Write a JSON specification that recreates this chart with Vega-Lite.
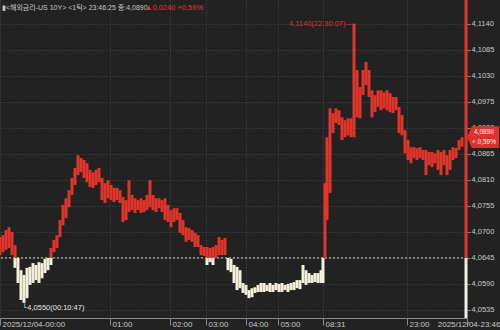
{
  "$schema": "https://vega.github.io/schema/vega-lite/v6.json",
  "width": 467,
  "height": 318,
  "autosize": {"type": "none"},
  "padding": {"left": 0, "top": 0, "right": 33, "bottom": 12},
  "background": "#222222",
  "config": {
    "view": {"stroke": null},
    "font": "Liberation Sans, Noto Sans CJK KR, DejaVu Sans",
    "axis": {"labelOverlap": false, "labelFlush": false}
  },
  "data": {"values": [{}]},
  "datasets": {
    "ticks": [
      {"i": 0, "hi": 4.0689, "lo": 4.0651},
      {"i": 3, "hi": 4.0693, "lo": 4.0657},
      {"i": 6, "hi": 4.0704, "lo": 4.0662},
      {"i": 9, "hi": 4.0710, "lo": 4.0666},
      {"i": 12, "hi": 4.0700, "lo": 4.0651},
      {"i": 15, "hi": 4.0672, "lo": 4.0645},
      {"i": 15, "hi": 4.0645, "lo": 4.0624},
      {"i": 18, "hi": 4.0645, "lo": 4.0592},
      {"i": 21, "hi": 4.0619, "lo": 4.0556},
      {"i": 24, "hi": 4.0609, "lo": 4.0550},
      {"i": 27, "hi": 4.0624, "lo": 4.0560},
      {"i": 30, "hi": 4.0626, "lo": 4.0588},
      {"i": 33, "hi": 4.0634, "lo": 4.0592},
      {"i": 36, "hi": 4.0630, "lo": 4.0598},
      {"i": 39, "hi": 4.0636, "lo": 4.0592},
      {"i": 42, "hi": 4.0634, "lo": 4.0602},
      {"i": 45, "hi": 4.0643, "lo": 4.0613},
      {"i": 48, "hi": 4.0645, "lo": 4.0619},
      {"i": 51, "hi": 4.0666, "lo": 4.0645},
      {"i": 51, "hi": 4.0645, "lo": 4.0630},
      {"i": 54, "hi": 4.0683, "lo": 4.0657},
      {"i": 57, "hi": 4.0693, "lo": 4.0666},
      {"i": 60, "hi": 4.0725, "lo": 4.0689},
      {"i": 63, "hi": 4.0757, "lo": 4.0714},
      {"i": 66, "hi": 4.0771, "lo": 4.0729},
      {"i": 69, "hi": 4.0788, "lo": 4.0752},
      {"i": 72, "hi": 4.0814, "lo": 4.0778},
      {"i": 75, "hi": 4.0835, "lo": 4.0799},
      {"i": 78, "hi": 4.0862, "lo": 4.0820},
      {"i": 81, "hi": 4.0856, "lo": 4.0826},
      {"i": 84, "hi": 4.0852, "lo": 4.0814},
      {"i": 87, "hi": 4.0845, "lo": 4.0805},
      {"i": 90, "hi": 4.0831, "lo": 4.0795},
      {"i": 93, "hi": 4.0826, "lo": 4.0793},
      {"i": 96, "hi": 4.0831, "lo": 4.0799},
      {"i": 99, "hi": 4.0835, "lo": 4.0805},
      {"i": 102, "hi": 4.0814, "lo": 4.0767},
      {"i": 105, "hi": 4.0803, "lo": 4.0761},
      {"i": 108, "hi": 4.0809, "lo": 4.0771},
      {"i": 111, "hi": 4.0799, "lo": 4.0767},
      {"i": 114, "hi": 4.0793, "lo": 4.0763},
      {"i": 117, "hi": 4.0793, "lo": 4.0767},
      {"i": 120, "hi": 4.0788, "lo": 4.0761},
      {"i": 123, "hi": 4.0774, "lo": 4.0721},
      {"i": 126, "hi": 4.0767, "lo": 4.0725},
      {"i": 129, "hi": 4.0809, "lo": 4.0742},
      {"i": 132, "hi": 4.0778, "lo": 4.0746},
      {"i": 135, "hi": 4.0771, "lo": 4.0740},
      {"i": 138, "hi": 4.0767, "lo": 4.0746},
      {"i": 141, "hi": 4.0771, "lo": 4.0740},
      {"i": 144, "hi": 4.0767, "lo": 4.0742},
      {"i": 147, "hi": 4.0778, "lo": 4.0746},
      {"i": 150, "hi": 4.0809, "lo": 4.0752},
      {"i": 153, "hi": 4.0778, "lo": 4.0746},
      {"i": 156, "hi": 4.0771, "lo": 4.0742},
      {"i": 159, "hi": 4.0771, "lo": 4.0750},
      {"i": 162, "hi": 4.0767, "lo": 4.0742},
      {"i": 165, "hi": 4.0771, "lo": 4.0725},
      {"i": 168, "hi": 4.0757, "lo": 4.0721},
      {"i": 171, "hi": 4.0746, "lo": 4.0710},
      {"i": 174, "hi": 4.0750, "lo": 4.0721},
      {"i": 177, "hi": 4.0750, "lo": 4.0725},
      {"i": 180, "hi": 4.0740, "lo": 4.0698},
      {"i": 183, "hi": 4.0725, "lo": 4.0693},
      {"i": 186, "hi": 4.0710, "lo": 4.0679},
      {"i": 189, "hi": 4.0708, "lo": 4.0683},
      {"i": 192, "hi": 4.0704, "lo": 4.0679},
      {"i": 195, "hi": 4.0698, "lo": 4.0668},
      {"i": 198, "hi": 4.0693, "lo": 4.0668},
      {"i": 201, "hi": 4.0672, "lo": 4.0651},
      {"i": 204, "hi": 4.0668, "lo": 4.0649},
      {"i": 207, "hi": 4.0668, "lo": 4.0645},
      {"i": 207, "hi": 4.0645, "lo": 4.0630},
      {"i": 210, "hi": 4.0666, "lo": 4.0645},
      {"i": 210, "hi": 4.0645, "lo": 4.0636},
      {"i": 213, "hi": 4.0668, "lo": 4.0645},
      {"i": 213, "hi": 4.0645, "lo": 4.0630},
      {"i": 216, "hi": 4.0672, "lo": 4.0645},
      {"i": 219, "hi": 4.0689, "lo": 4.0651},
      {"i": 222, "hi": 4.0683, "lo": 4.0651},
      {"i": 225, "hi": 4.0687, "lo": 4.0651},
      {"i": 228, "hi": 4.0645, "lo": 4.0619},
      {"i": 231, "hi": 4.0643, "lo": 4.0615},
      {"i": 234, "hi": 4.0630, "lo": 4.0592},
      {"i": 237, "hi": 4.0626, "lo": 4.0577},
      {"i": 240, "hi": 4.0619, "lo": 4.0581},
      {"i": 243, "hi": 4.0592, "lo": 4.0571},
      {"i": 246, "hi": 4.0588, "lo": 4.0567},
      {"i": 249, "hi": 4.0577, "lo": 4.0560},
      {"i": 252, "hi": 4.0581, "lo": 4.0562},
      {"i": 255, "hi": 4.0583, "lo": 4.0571},
      {"i": 258, "hi": 4.0588, "lo": 4.0573},
      {"i": 261, "hi": 4.0592, "lo": 4.0573},
      {"i": 264, "hi": 4.0592, "lo": 4.0573},
      {"i": 267, "hi": 4.0588, "lo": 4.0575},
      {"i": 270, "hi": 4.0592, "lo": 4.0573},
      {"i": 273, "hi": 4.0588, "lo": 4.0573},
      {"i": 276, "hi": 4.0592, "lo": 4.0577},
      {"i": 279, "hi": 4.0590, "lo": 4.0573},
      {"i": 282, "hi": 4.0592, "lo": 4.0573},
      {"i": 285, "hi": 4.0588, "lo": 4.0577},
      {"i": 288, "hi": 4.0590, "lo": 4.0573},
      {"i": 291, "hi": 4.0592, "lo": 4.0577},
      {"i": 294, "hi": 4.0594, "lo": 4.0577},
      {"i": 297, "hi": 4.0598, "lo": 4.0581},
      {"i": 300, "hi": 4.0598, "lo": 4.0579},
      {"i": 303, "hi": 4.0630, "lo": 4.0592},
      {"i": 306, "hi": 4.0619, "lo": 4.0588},
      {"i": 309, "hi": 4.0613, "lo": 4.0592},
      {"i": 312, "hi": 4.0609, "lo": 4.0592},
      {"i": 315, "hi": 4.0613, "lo": 4.0594},
      {"i": 318, "hi": 4.0613, "lo": 4.0592},
      {"i": 321, "hi": 4.0619, "lo": 4.0592},
      {"i": 323, "hi": 4.0645, "lo": 4.0592},
      {"i": 325, "hi": 4.0803, "lo": 4.0645},
      {"i": 327, "hi": 4.0900, "lo": 4.0725},
      {"i": 330, "hi": 4.0961, "lo": 4.0782},
      {"i": 333, "hi": 4.0951, "lo": 4.0909},
      {"i": 336, "hi": 4.0961, "lo": 4.0930},
      {"i": 339, "hi": 4.0957, "lo": 4.0926},
      {"i": 342, "hi": 4.0942, "lo": 4.0894},
      {"i": 345, "hi": 4.0936, "lo": 4.0900},
      {"i": 348, "hi": 4.0940, "lo": 4.0904},
      {"i": 351, "hi": 4.0940, "lo": 4.0900},
      {"i": 354, "hi": 4.1140, "lo": 4.0900},
      {"i": 357, "hi": 4.1042, "lo": 4.0942},
      {"i": 360, "hi": 4.1006, "lo": 4.0940},
      {"i": 363, "hi": 4.1042, "lo": 4.0989},
      {"i": 366, "hi": 4.1059, "lo": 4.1010},
      {"i": 369, "hi": 4.1042, "lo": 4.0985},
      {"i": 372, "hi": 4.0999, "lo": 4.0942},
      {"i": 375, "hi": 4.0989, "lo": 4.0953},
      {"i": 378, "hi": 4.0999, "lo": 4.0964},
      {"i": 381, "hi": 4.0999, "lo": 4.0957},
      {"i": 384, "hi": 4.0995, "lo": 4.0961},
      {"i": 387, "hi": 4.0999, "lo": 4.0957},
      {"i": 390, "hi": 4.0993, "lo": 4.0953},
      {"i": 393, "hi": 4.0985, "lo": 4.0951},
      {"i": 396, "hi": 4.0985, "lo": 4.0957},
      {"i": 399, "hi": 4.0964, "lo": 4.0909},
      {"i": 402, "hi": 4.0947, "lo": 4.0904},
      {"i": 405, "hi": 4.0915, "lo": 4.0866},
      {"i": 408, "hi": 4.0894, "lo": 4.0852},
      {"i": 411, "hi": 4.0879, "lo": 4.0845},
      {"i": 414, "hi": 4.0879, "lo": 4.0856},
      {"i": 417, "hi": 4.0877, "lo": 4.0852},
      {"i": 420, "hi": 4.0879, "lo": 4.0856},
      {"i": 423, "hi": 4.0873, "lo": 4.0852},
      {"i": 426, "hi": 4.0873, "lo": 4.0820},
      {"i": 429, "hi": 4.0869, "lo": 4.0841},
      {"i": 432, "hi": 4.0869, "lo": 4.0837},
      {"i": 435, "hi": 4.0866, "lo": 4.0845},
      {"i": 438, "hi": 4.0873, "lo": 4.0831},
      {"i": 441, "hi": 4.0869, "lo": 4.0820},
      {"i": 444, "hi": 4.0873, "lo": 4.0841},
      {"i": 447, "hi": 4.0862, "lo": 4.0820},
      {"i": 450, "hi": 4.0873, "lo": 4.0831},
      {"i": 453, "hi": 4.0879, "lo": 4.0852},
      {"i": 456, "hi": 4.0877, "lo": 4.0856},
      {"i": 459, "hi": 4.0894, "lo": 4.0873},
      {"i": 462, "hi": 4.0900, "lo": 4.0880},
      {"i": 466, "hi": 4.119, "lo": 4.0645},
      {"i": 466, "hi": 4.0645, "lo": 4.0518}
    ]
  },
  "layer": [
    {
      "mark": {"type": "rule", "color": "#d8d8d8", "strokeDash": [2, 2], "strokeWidth": 1},
      "encoding": {
        "y": {"datum": 4.0645, "type": "quantitative"}
      }
    },
    {
      "data": {"name": "ticks"},
      "mark": {"type": "rule", "strokeWidth": 3, "strokeCap": "butt"},
      "encoding": {
        "x": {
          "field": "i",
          "type": "quantitative",
          "scale": {"domain": [0, 467], "nice": false, "zero": false},
          "axis": {
            "title": null,
            "values": [0, 110, 170, 206, 246, 278, 323, 407, 467],
            "tickCount": 20,
            "labelExpr": "datum.value == 0 ? '2025/12/04-00:00' : datum.value == 110 ? '01:00' : datum.value == 170 ? '02:00' : datum.value == 206 ? '03:00' : datum.value == 246 ? '04:00' : datum.value == 278 ? '05:00' : datum.value == 323 ? '08:31' : datum.value == 407 ? '23:00' : '2025/12/04-23:46'",
            "domainColor": "#8a8a8a",
            "tickColor": "#8a8a8a",
            "tickSize": 7,
            "labelColor": "#c8c8c8",
            "labelFontSize": 8,
            "labelFont": "Liberation Sans",
            "labelBaseline": "top",
            "labelPadding": -5,
            "labelAlign": {"condition": {"test": "datum.value >= 460", "value": "right"}, "value": "left"},
            "labelOffset": {"condition": {"test": "datum.value >= 460", "value": 33}, "value": 2},
            "labelFlush": false,
            "labelOverlap": false,
            "labelBound": false,
            "grid": true,
            "gridColor": "#4a4a4a",
            "gridDash": [1, 2]
          }
        },
        "y": {
          "field": "hi",
          "type": "quantitative",
          "scale": {"domain": [4.0518, 4.119], "nice": false, "zero": false},
          "axis": {
            "title": null,
            "orient": "right",
            "values": [4.0535, 4.059, 4.0645, 4.07, 4.0755, 4.081, 4.0865, 4.092, 4.0975, 4.103, 4.1085, 4.114],
            "tickCount": 24,
            "labelExpr": "replace(format(datum.value, '.4f'), '.', ',')",
            "domain": false,
            "tickSize": 3,
            "tickColor": "#8a8a8a",
            "labelPadding": 1,
            "labelColor": "#c8c8c8",
            "labelFontSize": 7.5,
            "labelFont": "Liberation Sans",
            "labelBaseline": "middle",
            "labelFlush": false,
            "labelOverlap": false,
            "grid": true,
            "gridColor": "#4a4a4a",
            "gridDash": [1, 2]
          }
        },
        "y2": {"field": "lo"},
        "stroke": {
          "condition": {"test": "datum.hi <= 4.0645", "value": "#f2efd8"},
          "value": "#e2352a"
        }
      }
    },
    {
      "mark": {"type": "point", "shape": "M0,0L0.3,-0.68L2,-0.68L2,0.68L0.3,0.68Z", "filled": true, "color": "#e0302a", "opacity": 1, "size": 1024, "strokeWidth": 0},
      "encoding": {
        "x": {"datum": 467, "type": "quantitative"},
        "y": {"datum": 4.0900, "type": "quantitative"}
      }
    },
    {
      "mark": {"type": "text", "color": "#ffffff", "fontSize": 6.5, "align": "center", "baseline": "middle", "dx": 17, "dy": -5.5, "font": "Liberation Sans"},
      "encoding": {
        "x": {"datum": 467, "type": "quantitative"},
        "y": {"datum": 4.0900, "type": "quantitative"},
        "text": {"value": "4,0890"}
      }
    },
    {
      "mark": {"type": "text", "color": "#ffffff", "fontSize": 6.5, "align": "center", "baseline": "middle", "dx": 17, "dy": 5, "font": "Liberation Sans"},
      "encoding": {
        "x": {"datum": 467, "type": "quantitative"},
        "y": {"datum": 4.0900, "type": "quantitative"},
        "text": {"value": "+ 0,59%"}
      }
    },
    {
      "mark": {"type": "text", "color": "#d6392c", "fontSize": 7.5, "align": "right", "baseline": "middle", "dx": -1, "font": "Liberation Sans, DejaVu Sans"},
      "encoding": {
        "x": {"datum": 354, "type": "quantitative"},
        "y": {"datum": 4.1140, "type": "quantitative"},
        "text": {"value": "4,1140(22:30:07)—"}
      }
    },
    {
      "mark": {"type": "text", "color": "#e6e6e6", "fontSize": 7.5, "align": "left", "baseline": "middle", "dx": -2, "dy": 5, "font": "Liberation Sans, DejaVu Sans"},
      "encoding": {
        "x": {"datum": 24, "type": "quantitative"},
        "y": {"datum": 4.0550, "type": "quantitative"},
        "text": {"value": "└4,0550(00:10:47)"}
      }
    },
    {
      "mark": {"type": "text", "color": "#c8c8c8", "fontSize": 7, "align": "left", "baseline": "middle", "font": "Liberation Sans, Noto Sans CJK KR, DejaVu Sans"},
      "encoding": {
        "x": {"datum": 2, "type": "quantitative"},
        "y": {"datum": 4.1174, "type": "quantitative"},
        "text": {"value": "▮<해외금리-US 10Y> <1틱> 23:46:25 종:4,0890"}
      }
    },
    {
      "mark": {"type": "text", "color": "#e0392b", "fontSize": 7.5, "align": "left", "baseline": "middle", "font": "Liberation Sans, DejaVu Sans"},
      "encoding": {
        "x": {"datum": 145, "type": "quantitative"},
        "y": {"datum": 4.1174, "type": "quantitative"},
        "text": {"value": "▲0,0240 +0,59%"}
      }
    }
  ]
}
